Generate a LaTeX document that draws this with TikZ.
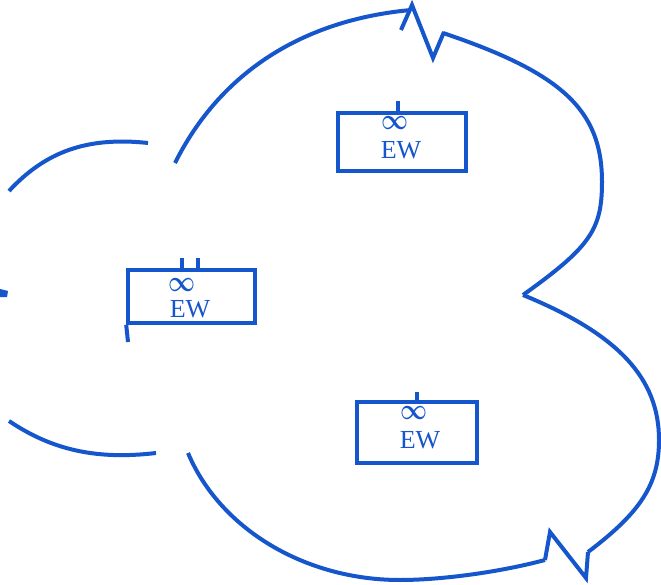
\documentclass[tikz,border=0pt]{standalone}
\usepackage{amsmath}
\usepackage{graphicx}
\usepackage{fontspec}
\setmainfont{Liberation Serif}
\definecolor{ink}{RGB}{22,86,204}
\newcommand{\infsym}{\resizebox{27pt}{13pt}{$\boldsymbol{\infty}$}}
\begin{document}
\begin{tikzpicture}[x=1pt,y=-1pt,
  cl/.style={draw=ink, line width=4pt},
  ewbox/.style={draw=ink, line width=3.6pt, inner sep=0pt, fill=white},
  inf/.style={text=ink, inner sep=0pt},
  ew/.style={text=ink, font=\fontsize{26}{26}\selectfont, inner sep=0pt}]
\useasboundingbox[fill=white] (0,0) rectangle (661,585);

% cloud outline
\draw[cl] (9,191) .. controls (46,151) and (88,136.6) .. (148,143);
\draw[cl] (175,163) .. controls (220,73) and (302,20) .. (411,10);
\draw[cl, line join=miter] (401,30) -- (412,5) -- (433,58) -- (444,32);
\draw[cl] (443,33) .. controls (562,73) and (602,110) .. (602,182)
                   .. controls (602,230) and (590,247) .. (523,295);
\draw[cl] (523,295) .. controls (618,334) and (659,378) .. (659,440)
                   .. controls (659,484) and (641,512) .. (588,552);
\draw[cl, line join=miter] (588,552) -- (586,578) -- (550,532) -- (545,560);
\draw[cl] (545,560) .. controls (500,572) and (442,580) .. (400,580)
                   .. controls (305,580) and (220,529) .. (188,453);
\draw[cl] (9,421) .. controls (52,450) and (96.5,460) .. (156,453);
\fill[ink] (0,289) -- (8,291) -- (7,297) -- (0,297) -- cycle;

% boxes
\node[ewbox, minimum width=128pt, minimum height=58pt] (b1) at (402,142) {};
\node[ewbox, minimum width=127pt, minimum height=53pt] (b2) at (191.5,296.5) {};
\node[ewbox, minimum width=120pt, minimum height=61pt] (b3) at (417,432.5) {};

% stems
\coordinate (s1) at (398,101);
\draw[cl] (s1) -- (s1 |- b1.north);
\coordinate (s2a) at (182,258);
\coordinate (s2b) at (198,258);
\draw[cl] (s2a) -- (s2a |- b2.north);
\draw[cl] (s2b) -- (s2b |- b2.north);
\coordinate (s2c) at (128,342);
\draw[cl] (b2.south west) -- (s2c);
\coordinate (s3) at (417,392);
\draw[cl] (s3) -- (s3 |- b3.north);

% labels
\node[inf] (i1) at (395,123) {\infsym};
\node[ew] (e1) at (401,150) {EW};
\node[inf] (i2) at (182,285) {\infsym};
\node[ew] (e2) at (190,309) {EW};
\node[inf] (i3) at (414,413) {\infsym};
\node[ew] (e3) at (420,440) {EW};
\end{tikzpicture}
\end{document}
